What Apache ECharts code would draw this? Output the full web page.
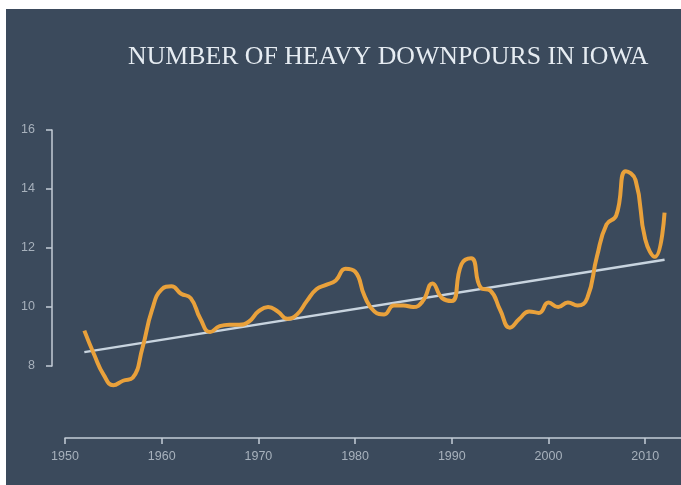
<!DOCTYPE html>
<html>
<head>
<meta charset="utf-8" />
<script src="https://cdn.jsdelivr.net/npm/echarts@6/dist/echarts.min.js"></script>
<title>heavy downpours iowa</title>
<style>
    html, body { margin: 0; padding: 0; background: #ffffff; }
    #main { position: absolute; left: 6px; top: 9px; width: 675px; height: 476px; }
</style>
</head>
<body>
<div id="main"></div>
<script type="text/javascript">
    // yearly count of heavy downpours
    let years = [];
    for (let y = 1952; y <= 2012; y++) years.push(y);
    let downpours = [
        9.2, 8.4, 7.7, 7.35, 7.5, 7.6, 8.6, 9.9, 10.6,
        10.7, 10.45, 10.3, 9.6, 9.15, 9.35, 9.4, 9.4, 9.5, 9.85,
        10.0, 9.85, 9.6, 9.75, 10.2, 10.6, 10.75, 10.9, 11.3, 11.2,
        10.35, 9.85, 9.75, 10.05, 10.05, 10.0, 10.2, 10.8, 10.3, 10.2,
        11.45, 11.65, 10.65, 10.55, 9.9, 9.3, 9.6, 9.85, 9.8, 10.15,
        10.0, 10.15, 10.05, 10.3, 11.7, 12.8, 13.1, 14.6, 14.3, 12.3,
        11.7, 13.2
    ];
    // linear trend end points
    let trendYears = [1952, 2012];
    let trendValues = [8.47, 11.6];

    let xTicks = [1950, 1960, 1970, 1980, 1990, 2000, 2010];
    let yTicks = [8, 10, 12, 14, 16];

    let myChart = echarts.init(document.getElementById('main'));
    let axisColor = '#c4cdd6';
    let labelColor = '#a7b1bc';

    option = {
        backgroundColor: '#3b4a5c',
        animation: false,
        title: {
            text: 'NUMBER OF HEAVY DOWNPOURS IN IOWA',
            left: 117,
            top: 30,
            textStyle: {
                fontFamily: 'Liberation Serif',
                fontWeight: 'normal',
                fontSize: 25.8,
                color: '#e6ecf2'
            }
        },
        grid: {
            left: 59,
            right: 0,
            top: 121,
            bottom: 119,
            containLabel: false
        },
        xAxis: {
            type: 'value',
            min: 1950,
            max: 2013.7,
            offset: 72,
            splitLine: { show: false },
            axisLine: { lineStyle: { color: axisColor, width: 1.5 } },
            axisTick: { customValues: xTicks, length: 6, lineStyle: { color: axisColor, width: 1.5 } },
            axisLabel: {
                customValues: xTicks,
                formatter: function (v) { return String(v); },
                margin: 12,
                color: labelColor,
                fontFamily: 'Liberation Sans',
                fontSize: 12.5
            }
        },
        yAxis: {
            type: 'value',
            min: 8,
            max: 16,
            offset: 13,
            splitLine: { show: false },
            axisLine: { show: true, lineStyle: { color: axisColor, width: 1.5 } },
            axisTick: { show: true, customValues: yTicks, length: 6, lineStyle: { color: axisColor, width: 1.5 } },
            axisLabel: {
                customValues: yTicks,
                margin: 17,
                color: labelColor,
                fontFamily: 'Liberation Sans',
                fontSize: 12.5
            }
        },
        series: [{
            type: 'line',
            data: trendYears.map((y, i) => [y, trendValues[i]]),
            symbol: 'none',
            clip: false,
            lineStyle: { color: '#c8d4df', width: 2.5 }
        }, {
            type: 'line',
            data: years.map((y, i) => [y, downpours[i]]),
            symbol: 'none',
            smooth: 0.5,
            clip: false,
            lineStyle: { color: '#e9a13b', width: 4 }
        }]
    };
    myChart.setOption(option);
</script>
</body>
</html>
